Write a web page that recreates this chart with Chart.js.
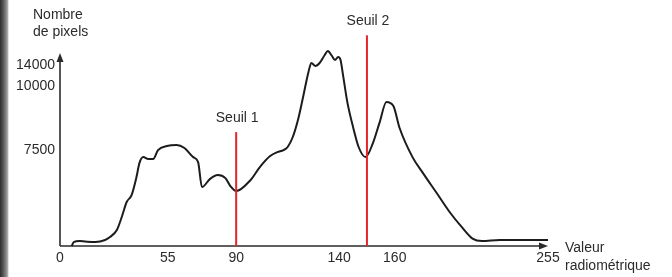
<!DOCTYPE html>
<html>
<head>
<meta charset="utf-8">
<title>Histogramme</title>
<script src="https://cdn.jsdelivr.net/npm/chart.js@4"></script>
<style>
    body { margin: 0; background: #fff; }
    .wrap { position: relative; width: 672px; height: 277px; }
    .edge { position: absolute; left: 0; top: 0; width: 9px; height: 277px; z-index: 2;
        background: linear-gradient(to right, #2e2e2e, #555 35%, #9a9a9a 80%, #fff); }
</style>
</head>
<body>

<div class="wrap">
    <div class="edge"></div>
    <canvas id="chart"></canvas>
</div>

<script>

    // tick labels (the axes of the original are not to scale)
    const xTicks = [0, 55, 90, 140, 160, 255]
    const yTicks = [7500, 10000, 14000]

    // histogram
    const values = [6, 7, 10, 13, 18, 23, 25.5, 29, 31.5, 34, 36.5, 39, 40.5, 42.5, 45, 47.5, 50, 54.5, 59.5, 63.5,
        68, 70.5, 72.5, 76.5, 80.5, 84.5, 87, 90, 97, 101.5, 106.5, 110, 113, 115, 117.5, 120, 122.5, 125, 126.5, 128.5,
        130.5, 133, 134.5, 136.5, 138, 139.5, 140.5, 141.5, 143, 145, 147, 149.5, 152, 154.5, 157, 159.5, 163, 171, 177.5,
        186, 194, 202, 208.5, 214, 225, 255]
    const counts = [0, 310, 390, 350, 310, 470, 700, 1250, 2270, 3440, 3980, 5390, 6480, 6950, 6800, 6800, 7500, 7660, 7700, 7580,
        6950, 6560, 4610, 5230, 5550, 5310, 4690, 4300, 5160, 6170, 7030, 7340, 7500, 7620, 8010, 8670, 9570, 12480, 14380, 13810,
        14380, 15920, 16680, 15730, 14960, 15530, 14960, 11720, 9340, 8400, 7620, 6950, 7730, 8560, 9380, 9220, 8360, 6950, 5700,
        4140, 2660, 1410, 550, 390, 470, 470]

    // thresholds
    const seuilLabels = ["Seuil 1", "Seuil 2"]
    const seuilValues = [90, 150]
    const seuilTops = [8200, 19700]

    // linear scale that is linear only between its stops
    class PiecewiseScale extends Chart.LinearScale {
        toDecimal(v) {
            const vals = this.options.stopValues, fr = this.options.stopFractions
            let i = 1
            while (i < vals.length - 1 && v > vals[i]) i++
            return fr[i - 1] + (v - vals[i - 1]) * (fr[i] - fr[i - 1]) / (vals[i] - vals[i - 1])
        }
        getPixelForValue(v) {
            return v == null ? NaN : this.getPixelForDecimal(this.toDecimal(v))
        }
        getValueForPixel(p) {
            const d = this.getDecimalForPixel(p)
            const vals = this.options.stopValues, fr = this.options.stopFractions
            let i = 1
            while (i < fr.length - 1 && d > fr[i]) i++
            return vals[i - 1] + (d - fr[i - 1]) * (vals[i] - vals[i - 1]) / (fr[i] - fr[i - 1])
        }
    }
    PiecewiseScale.id = 'piecewise'
    PiecewiseScale.defaults = Chart.LinearScale.defaults
    Chart.register(PiecewiseScale)

    Chart.defaults.font.family = '"Liberation Sans", Arial, sans-serif'
    Chart.defaults.font.size = 14
    Chart.defaults.color = '#2b2b2b'

    const ink = '#2b2b2b'

    const decor = {
        id: 'decor',
        beforeDatasetsDraw(chart) {
            const {ctx, chartArea: {left, right, top, bottom}} = chart
            ctx.save()
            ctx.strokeStyle = ink
            ctx.fillStyle = ink
            ctx.lineWidth = 1.6
            ctx.beginPath()
            ctx.moveTo(left, bottom)
            ctx.lineTo(left, top + 6)
            ctx.moveTo(left, bottom)
            ctx.lineTo(right - 6, bottom)
            ctx.stroke()
            ctx.beginPath()
            ctx.moveTo(left, top)
            ctx.lineTo(left - 3.5, top + 9)
            ctx.lineTo(left + 3.5, top + 9)
            ctx.closePath()
            ctx.fill()
            ctx.beginPath()
            ctx.moveTo(right, bottom)
            ctx.lineTo(right - 9, bottom - 3.5)
            ctx.lineTo(right - 9, bottom + 3.5)
            ctx.closePath()
            ctx.fill()
            ctx.restore()
        },
        afterDatasetsDraw(chart) {
            const {ctx} = chart
            ctx.save()
            ctx.fillStyle = ink
            ctx.font = '14px "Liberation Sans", Arial, sans-serif'
            ctx.textBaseline = 'middle'
            ctx.textAlign = 'left'
            ctx.fillText('Nombre', 33, 15)
            ctx.fillText('de pixels', 33, 32)
            ctx.fillText('Valeur', 565, 248)
            ctx.fillText('radiométrique', 565, 266)
            ctx.textAlign = 'center'
            seuilLabels.forEach((label, i) => {
                const top = chart.getDatasetMeta(i).data[1]
                ctx.fillText(label, top.x + 1, top.y - 14)
            })
            ctx.restore()
        }
    }

    const ctx = document.getElementById('chart')

    new Chart(ctx, {
        type: 'line',
        data: {
            datasets: [
                ...seuilValues.map((x, i) => ({
                    label: seuilLabels[i],
                    data: [{x: x, y: 0}, {x: x, y: seuilTops[i]}],
                    borderColor: '#e3262b',
                    borderWidth: 2,
                    pointRadius: 0,
                    clip: false,
                })),
                {
                    label: 'Nombre de pixels',
                    data: values.map((v, i) => ({x: v, y: counts[i]})),
                    borderColor: '#1c1c1c',
                    borderWidth: 2,
                    pointRadius: 0,
                    cubicInterpolationMode: 'monotone',
                    clip: false,
                }
            ]
        },
        options: {
            responsive: true,
            maintainAspectRatio: false,
            animation: false,
            events: [],
            layout: {padding: {left: 0, right: 124, top: 53, bottom: 0}},
            plugins: {legend: {display: false}, tooltip: {enabled: false}},
            scales: {
                x: {
                    type: 'piecewise',
                    min: 0,
                    max: 255,
                    stopValues: xTicks,
                    stopFractions: [0, 0.221, 0.361, 0.572, 0.686, 1],
                    grid: {display: false, drawTicks: false},
                    border: {display: false},
                    afterBuildTicks: scale => { scale.ticks = xTicks.map(v => ({value: v})) },
                    afterFit: scale => { scale.height = 31 },
                    ticks: {padding: 4, maxRotation: 0, autoSkip: false, callback: v => String(v)}
                },
                y: {
                    type: 'piecewise',
                    min: 0,
                    max: 16300,
                    stopValues: [0, ...yTicks, 16300],
                    stopFractions: [0, 0.497, 0.829, 0.938, 1],
                    grid: {display: false, drawTicks: false},
                    border: {display: false},
                    afterBuildTicks: scale => { scale.ticks = yTicks.map(v => ({value: v})) },
                    afterFit: scale => { scale.width = 60 },
                    ticks: {padding: 5, autoSkip: false, callback: v => String(v)}
                }
            }
        },
        plugins: [decor]
    })

</script>

</body>
</html>
